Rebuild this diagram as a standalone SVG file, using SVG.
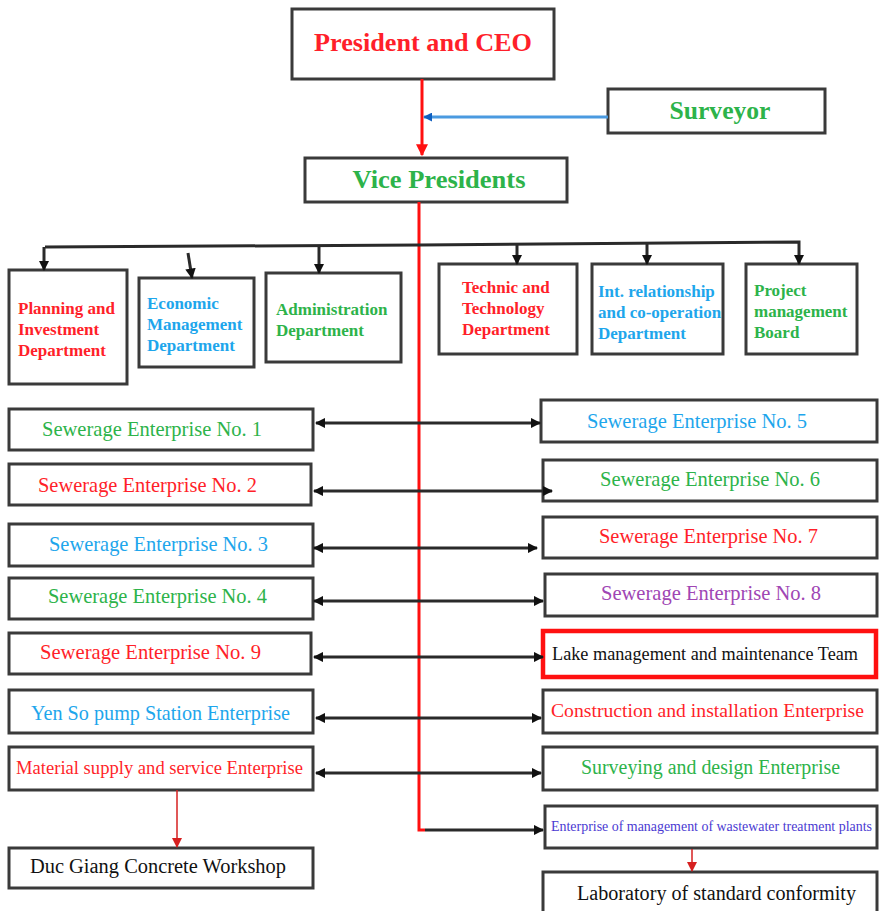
<svg xmlns="http://www.w3.org/2000/svg" width="879" height="911" viewBox="0 0 879 911">
<style>
.box{fill:#fff;stroke:#3a3a3a;stroke-width:3}
text{font-family:'Liberation Serif','Times New Roman','DejaVu Serif',serif}
.b{font-weight:bold}
.big{font-size:26px}
.dep{font-size:17px;font-weight:bold}
.ent{font-size:21px}
.red{fill:#ff1f2a}.grn{fill:#2db34a}.blu{fill:#1ea6ec}.pur{fill:#a046b4}.blk{fill:#111}.ind{fill:#4a3ad2}
.con{stroke:#2a2a2a;stroke-width:3;fill:none}
.rl{stroke:#ff1010;stroke-width:3;fill:none}
.rt{stroke:#d62020;stroke-width:1.5;fill:none}
</style>
<defs>
<marker id="ah" viewBox="0 0 10 10" refX="9" refY="5" markerWidth="3.5" markerHeight="3.5" orient="auto-start-reverse"><path d="M0,0L10,5L0,10z" fill="#111"/></marker>
<marker id="ahr" viewBox="0 0 10 10" refX="9" refY="5" markerWidth="4" markerHeight="4" orient="auto"><path d="M0,0L10,5L0,10z" fill="#ff1010"/></marker>
<marker id="ahr2" viewBox="0 0 10 10" refX="9" refY="5" markerWidth="7" markerHeight="7" orient="auto"><path d="M0,0L10,5L0,10z" fill="#d62020"/></marker>
<marker id="ahb" viewBox="0 0 10 10" refX="9" refY="5" markerWidth="3" markerHeight="3" orient="auto"><path d="M0,0L10,5L0,10z" fill="#1060c0"/></marker>
</defs>

<g id="president"><rect class="box" x="292" y="9" width="262" height="70"/><text class="b big red" x="423" y="51" text-anchor="middle" textLength="218" lengthAdjust="spacingAndGlyphs">President and CEO</text></g>
<g id="surveyor"><rect class="box" x="608" y="89" width="217" height="44"/><text class="b grn" font-size="25" x="720" y="119" text-anchor="middle" textLength="101" lengthAdjust="spacingAndGlyphs">Surveyor</text></g>
<g id="vice"><rect class="box" x="305" y="158" width="262" height="44"/><text class="b big grn" x="439" y="188" text-anchor="middle" textLength="173" lengthAdjust="spacingAndGlyphs">Vice Presidents</text></g>

<g id="planning"><rect class="box" x="9" y="270" width="118" height="114"/><text class="dep red"><tspan x="18" y="314">Planning and</tspan><tspan x="18" y="335">Investment</tspan><tspan x="18" y="356">Department</tspan></text></g>
<g id="economic"><rect class="box" x="139" y="278" width="115" height="89"/><text class="dep blu"><tspan x="147" y="309">Economic</tspan><tspan x="147" y="330">Management</tspan><tspan x="147" y="351">Department</tspan></text></g>
<g id="admin"><rect class="box" x="266" y="273" width="135" height="89"/><text class="dep grn"><tspan x="276" y="315">Administration</tspan><tspan x="276" y="336">Department</tspan></text></g>
<g id="technic"><rect class="box" x="439" y="264" width="138" height="90"/><text class="dep red"><tspan x="462" y="293">Technic and</tspan><tspan x="462" y="314">Technology</tspan><tspan x="462" y="335">Department</tspan></text></g>
<g id="intrel"><rect class="box" x="592" y="264" width="131" height="90"/><text class="dep blu"><tspan x="598" y="297">Int. relationship</tspan><tspan x="598" y="318">and co-operation</tspan><tspan x="598" y="339">Department</tspan></text></g>
<g id="project"><rect class="box" x="746" y="264" width="111" height="90"/><text class="dep grn"><tspan x="754" y="296">Project</tspan><tspan x="754" y="317">management</tspan><tspan x="754" y="338">Board</tspan></text></g>

<g id="se1"><rect class="box" x="9" y="409" width="304" height="41"/><text class="ent grn" x="42" y="436" textLength="220" lengthAdjust="spacingAndGlyphs">Sewerage Enterprise No. 1</text></g>
<g id="se2"><rect class="box" x="9" y="464" width="302" height="41"/><text class="ent red" x="38" y="492" textLength="219" lengthAdjust="spacingAndGlyphs">Sewerage Enterprise No. 2</text></g>
<g id="se3"><rect class="box" x="9" y="524" width="304" height="42"/><text class="ent blu" x="49" y="551" textLength="219" lengthAdjust="spacingAndGlyphs">Sewerage Enterprise No. 3</text></g>
<g id="se4"><rect class="box" x="9" y="578" width="304" height="41"/><text class="ent grn" x="48" y="603" textLength="219" lengthAdjust="spacingAndGlyphs">Sewerage Enterprise No. 4</text></g>
<g id="se9"><rect class="box" x="9" y="633" width="302" height="41"/><text class="ent red" x="40" y="659" textLength="221" lengthAdjust="spacingAndGlyphs">Sewerage Enterprise No. 9</text></g>
<g id="yenso"><rect class="box" x="9" y="690" width="304" height="43"/><text class="ent blu" x="31" y="720" textLength="259" lengthAdjust="spacingAndGlyphs">Yen So pump Station Enterprise</text></g>
<g id="material"><rect class="box" x="9" y="747" width="304" height="43"/><text class="red" font-size="19" x="16" y="774" textLength="287" lengthAdjust="spacingAndGlyphs">Material supply and service Enterprise</text></g>
<g id="ducgiang"><rect class="box" x="9" y="848" width="304" height="40"/><text class="blk" font-size="20" x="30" y="873" textLength="256" lengthAdjust="spacingAndGlyphs">Duc Giang Concrete Workshop</text></g>

<g id="se5"><rect class="box" x="541" y="400" width="336" height="42"/><text class="ent blu" x="587" y="428" textLength="220" lengthAdjust="spacingAndGlyphs">Sewerage Enterprise No. 5</text></g>
<g id="se6"><rect class="box" x="543" y="460" width="334" height="41"/><text class="ent grn" x="600" y="486" textLength="220" lengthAdjust="spacingAndGlyphs">Sewerage Enterprise No. 6</text></g>
<g id="se7"><rect class="box" x="543" y="517" width="334" height="41"/><text class="ent red" x="599" y="543" textLength="219" lengthAdjust="spacingAndGlyphs">Sewerage Enterprise No. 7</text></g>
<g id="se8"><rect class="box" x="545" y="574" width="332" height="42"/><text class="ent pur" x="601" y="600" textLength="220" lengthAdjust="spacingAndGlyphs">Sewerage Enterprise No. 8</text></g>
<g id="lake"><rect x="543" y="631" width="333" height="46" fill="#fff" stroke="#ff1010" stroke-width="4.5"/><text class="blk" font-size="18" x="552" y="660" textLength="306" lengthAdjust="spacingAndGlyphs">Lake management and maintenance Team</text></g>
<g id="construction"><rect class="box" x="543" y="690" width="334" height="43"/><text class="red" font-size="19.5" x="551" y="717" textLength="313" lengthAdjust="spacingAndGlyphs">Construction and installation Enterprise</text></g>
<g id="surveying"><rect class="box" x="543" y="747" width="334" height="43"/><text class="grn" font-size="20" x="581" y="774" textLength="259" lengthAdjust="spacingAndGlyphs">Surveying and design Enterprise</text></g>
<g id="wastewater"><rect class="box" x="545" y="806" width="332" height="42"/><text class="ind" font-size="14" x="551" y="831" textLength="321" lengthAdjust="spacingAndGlyphs">Enterprise of management of wastewater treatment plants</text></g>
<g id="laboratory"><rect class="box" x="543" y="872" width="334" height="44"/><text class="blk" font-size="20" x="577" y="900" textLength="279" lengthAdjust="spacingAndGlyphs">Laboratory of standard conformity</text></g>

<g id="connectors">
  <line class="rl" x1="422" y1="79" x2="422" y2="155" marker-end="url(#ahr)"/>
  <line x1="608" y1="117" x2="424" y2="117" stroke="#4a9ae0" stroke-width="3" marker-end="url(#ahb)"/>
  <polyline class="rl" points="419,202 419,830 425,830"/>
  <line class="con" x1="425" y1="830" x2="543" y2="830" marker-end="url(#ah)"/>
  <polyline class="con" points="45,247 420,245 799,242 799,264" marker-end="url(#ah)"/>
  <line class="con" x1="44" y1="247" x2="44" y2="270" marker-end="url(#ah)"/>
  <line class="con" x1="188" y1="253" x2="192" y2="278" marker-end="url(#ah)"/>
  <line class="con" x1="319" y1="246" x2="319" y2="273" marker-end="url(#ah)"/>
  <line class="con" x1="517" y1="244" x2="517" y2="264" marker-end="url(#ah)"/>
  <line class="con" x1="647" y1="243" x2="647" y2="264" marker-end="url(#ah)"/>
  <line class="con" x1="316" y1="423" x2="540" y2="423" marker-start="url(#ah)" marker-end="url(#ah)"/>
  <line class="con" x1="314" y1="491" x2="552" y2="491" marker-start="url(#ah)" marker-end="url(#ah)"/>
  <line class="con" x1="314" y1="548" x2="537" y2="548" marker-start="url(#ah)" marker-end="url(#ah)"/>
  <line class="con" x1="314" y1="601" x2="543" y2="601" marker-start="url(#ah)" marker-end="url(#ah)"/>
  <line class="con" x1="314" y1="657" x2="543" y2="657" marker-start="url(#ah)" marker-end="url(#ah)"/>
  <line class="con" x1="316" y1="718" x2="541" y2="718" marker-start="url(#ah)" marker-end="url(#ah)"/>
  <line class="con" x1="316" y1="773" x2="541" y2="773" marker-start="url(#ah)" marker-end="url(#ah)"/>
  <line class="rt" x1="177" y1="790" x2="177" y2="847" marker-end="url(#ahr2)"/>
  <line class="rt" x1="692" y1="849" x2="692" y2="871" marker-end="url(#ahr2)"/>
</g>
</svg>
